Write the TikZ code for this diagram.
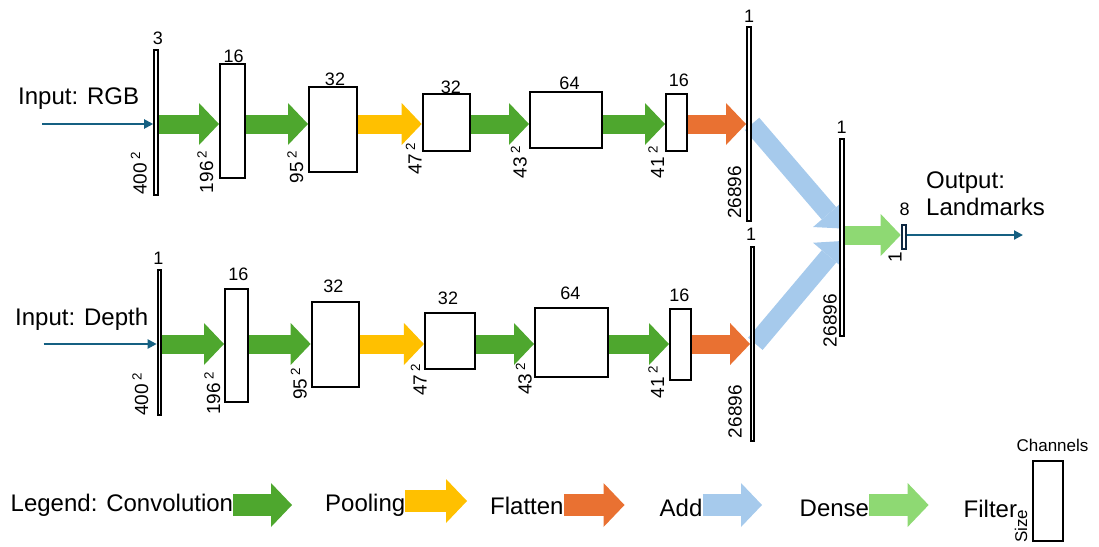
\documentclass[tikz,border=0pt]{standalone}
\usepackage{fontspec}
\setmainfont{Liberation Sans}
\usetikzlibrary{arrows.meta,backgrounds}

\definecolor{convgreen}{HTML}{4EA72E}
\definecolor{poolyellow}{HTML}{FFC000}
\definecolor{flatorange}{HTML}{E97132}
\definecolor{addblue}{HTML}{A6CAEC}
\definecolor{densegreen}{HTML}{8ED973}
\definecolor{ioblue}{HTML}{156082}
\definecolor{outnavy}{HTML}{0E2841}

\tikzset{
  layer/.style 2 args={draw, line width=2pt, fill=white, inner sep=0pt,
                       minimum width=#1, minimum height=#2},
  chan/.style={font=\fontsize{18}{20}\selectfont, inner sep=0pt, anchor=base},
  dimlbl/.style={font=\fontsize{19}{22}\selectfont, inner sep=0pt,
                 rotate=90, anchor=base west},
  txt/.style={font=\fontsize{24}{28}\selectfont, inner sep=0pt, anchor=base west},
  fat/.style={line width=19pt, -{Triangle[length=20pt,width=42pt,line width=0pt]}},
  fatkey/.style={line width=22pt, -{Triangle[length=21pt,width=44pt,line width=0pt]}},
  feed/.style={ioblue, line width=2pt, -{Triangle[length=9pt,width=9pt]}},
  convarrow/.style={draw=convgreen},
  poolarrow/.style={draw=poolyellow},
  flatarrow/.style={draw=flatorange},
  addarrow/.style={draw=addblue},
  densearrow/.style={draw=densegreen}
}
\newcommand{\sqd}[1]{#1\,\textsuperscript{2}}

\begin{document}
\begin{tikzpicture}[x=1pt, y=-1pt]
\useasboundingbox (0,0) rectangle (1099,546);

% ---------------- RGB branch ----------------
\node[txt] (rgbtxt) at (18,104) {Input: RGB};
\node[layer={4pt}{145pt}]      (in1) at (156.2,122.7) {};
\node[layer={25pt}{113.7pt}]   (c1)  at (232.5,121.2) {};
\node[layer={48pt}{85pt}]      (c2)  at (333,129.2) {};
\node[layer={47.3pt}{56.4pt}]  (p1)  at (446.3,122.5) {};
\node[layer={72pt}{56.3pt}]    (c3)  at (566,120.2) {};
\node[layer={21pt}{56.4pt}]    (c4)  at (676.5,122.5) {};
\node[layer={4pt}{193.7pt}]    (fl1) at (749,123.9) {};

\node[chan] (in1c) at (158,44)    {3};
\node[chan] (c1c)  at (233.7,62.7) {16};
\node[chan] (c2c)  at (335,85)    {32};
\node[chan] (p1c)  at (450.8,93.3) {32};
\node[chan] (c3c)  at (569.5,89.3) {64};
\node[chan] (c4c)  at (678.8,86)  {16};
\node[chan] (fl1c) at (749,22.7)  {1};

\node[dimlbl] (in1s) at (146.5,195)   {\sqd{400}};
\node[dimlbl] (c1s)  at (213,193.3)   {\sqd{196}};
\node[dimlbl] (c2s)  at (303,183.3)   {\sqd{95}};
\node[dimlbl] (p1s)  at (421.5,175)   {\sqd{47}};
\node[dimlbl] (c3s)  at (526.5,178.3) {\sqd{43}};
\node[dimlbl] (c4s)  at (664,178.3)   {\sqd{41}};
\node[dimlbl] (fl1s) at (741,219)     {26896};

% ---------------- Depth branch ----------------
\node[txt] (deptxt) at (15,325) {Input: Depth};
\node[layer={3pt}{145pt}]      (in2) at (159.2,342.5) {};
\node[layer={23pt}{113.3pt}]   (c1b) at (236.5,345.3) {};
\node[layer={47.3pt}{85.3pt}]  (c2b) at (335.3,344.7) {};
\node[layer={49.7pt}{56.3pt}]  (p1b) at (449.8,340.8) {};
\node[layer={73pt}{69pt}]      (c3b) at (571.5,342.5) {};
\node[layer={21pt}{70.7pt}]    (c4b) at (680.5,344.3) {};
\node[layer={3.3pt}{193.7pt}]  (fl2) at (752.7,343.8) {};

\node[chan] (in2c) at (158.3,264)   {1};
\node[chan] (c1bc) at (238.3,280)   {16};
\node[chan] (c2bc) at (333.3,292.7) {32};
\node[chan] (p1bc) at (448,304.3)   {32};
\node[chan] (c3bc) at (570.3,299.3) {64};
\node[chan] (c4bc) at (679.3,301.7) {16};
\node[chan] (fl2c) at (751,240)     {1};

\node[dimlbl] (in2s) at (148,416)     {\sqd{400}};
\node[dimlbl] (c1bs) at (220,415)     {\sqd{196}};
\node[dimlbl] (c2bs) at (306.5,400)   {\sqd{95}};
\node[dimlbl] (p1bs) at (426.5,396)   {\sqd{47}};
\node[dimlbl] (c3bs) at (531.5,395)   {\sqd{43}};
\node[dimlbl] (c4bs) at (664,398.3)   {\sqd{41}};
\node[dimlbl] (fl2s) at (741.5,438.3) {26896};

% ---------------- merge and output ----------------
\node[layer={4pt}{197pt}] (dn) at (842,237.5) {};
\node[layer={4pt}{23.7pt}, draw=outnavy] (out) at (903.7,237.2) {};
\node[chan] (dnc)  at (841.7,133.3) {1};
\node[chan] (outc) at (904.5,215)   {8};
\node[dimlbl] (dns)  at (836.5,347.3) {26896};
\node[dimlbl] (outs) at (901.5,262.5) {1};
\node[txt] (outtxt)  at (926,188.3) {Output:};
\node[txt] (outtxt2) at (926,215)   {Landmarks};

% ---------------- connectors ----------------
\coordinate (rgbrow) at (0,124);
\coordinate (deprow) at (0,344);
\coordinate (outrow) at (0,235);
\coordinate (rgbsrc) at (42,124);
\coordinate (depsrc) at (43.7,344);
\coordinate (outdst) at (1023,235);

\draw[feed] (rgbsrc) -- (rgbsrc -| in1.west);
\draw[fat, convarrow] (in1.east |- rgbrow) -- (c1.west |- rgbrow);
\draw[fat, convarrow] (c1.east |- rgbrow)  -- (c2.west |- rgbrow);
\draw[fat, poolarrow] (c2.east |- rgbrow)  -- (p1.west |- rgbrow);
\draw[fat, convarrow] (p1.east |- rgbrow)  -- (c3.west |- rgbrow);
\draw[fat, convarrow] (c3.east |- rgbrow)  -- (c4.west |- rgbrow);
\draw[fat, flatarrow] (c4.east |- rgbrow)  -- (fl1.west |- rgbrow);

\draw[feed] (depsrc) -- (depsrc -| in2.west);
\draw[fat, convarrow] (in2.east |- deprow) -- (c1b.west |- deprow);
\draw[fat, convarrow] (c1b.east |- deprow) -- (c2b.west |- deprow);
\draw[fat, poolarrow] (c2b.east |- deprow) -- (p1b.west |- deprow);
\draw[fat, convarrow] (p1b.east |- deprow) -- (c3b.west |- deprow);
\draw[fat, convarrow] (c3b.east |- deprow) -- (c4b.west |- deprow);
\draw[fat, flatarrow] (c4b.east |- deprow) -- (fl2.west |- deprow);

\begin{pgfonlayer}{background}
\draw[fat, addarrow] (fl1.east) -- ([yshift=9pt]dn.center);
\draw[fat, addarrow] (fl2.east) -- ([yshift=-3.5pt]dn.center);
\end{pgfonlayer}

\draw[fat, densearrow] (dn.east |- outrow) -- (out.west |- outrow);
\draw[feed] (out.east |- outdst) -- (outdst);

% ---------------- legend ----------------
\node[txt] (lgconv)  at (10.5,511)  {Legend: Convolution};
\node[txt] (lgpool)  at (325,511)   {Pooling};
\node[txt] (lgflat)  at (490,514)   {Flatten};
\node[txt] (lgadd)   at (659.5,516) {Add};
\node[txt] (lgdense) at (799.5,516.5) {Dense};
\node[txt] (lgfilt)  at (963.5,517) {Filter};
\node[layer={30.3pt}{79.7pt}] (lgbox) at (1047.8,500.8) {};
\node[chan, font=\fontsize{17}{20}\selectfont] (lgchan) at (1052.5,451.5) {Channels};
\node[dimlbl, font=\fontsize{17}{20}\selectfont] (lgsize) at (1027,543) {Size};

\coordinate (lgconvtip)  at (292,505);
\coordinate (lgpooltip)  at (467,501);
\coordinate (lgflattip)  at (624.5,505);
\coordinate (lgaddtip)   at (762,505);
\coordinate (lgdensetip) at (928.6,505);
\draw[fatkey, convarrow]  (lgconv.east |- lgconvtip)   -- (lgconvtip);
\draw[fatkey, poolarrow]  (lgpool.east |- lgpooltip)   -- (lgpooltip);
\draw[fatkey, flatarrow]  (lgflat.east |- lgflattip)   -- (lgflattip);
\draw[fatkey, addarrow]   (lgadd.east |- lgaddtip)     -- (lgaddtip);
\draw[fatkey, densearrow] (lgdense.east |- lgdensetip) -- (lgdensetip);

\end{tikzpicture}
\end{document}
